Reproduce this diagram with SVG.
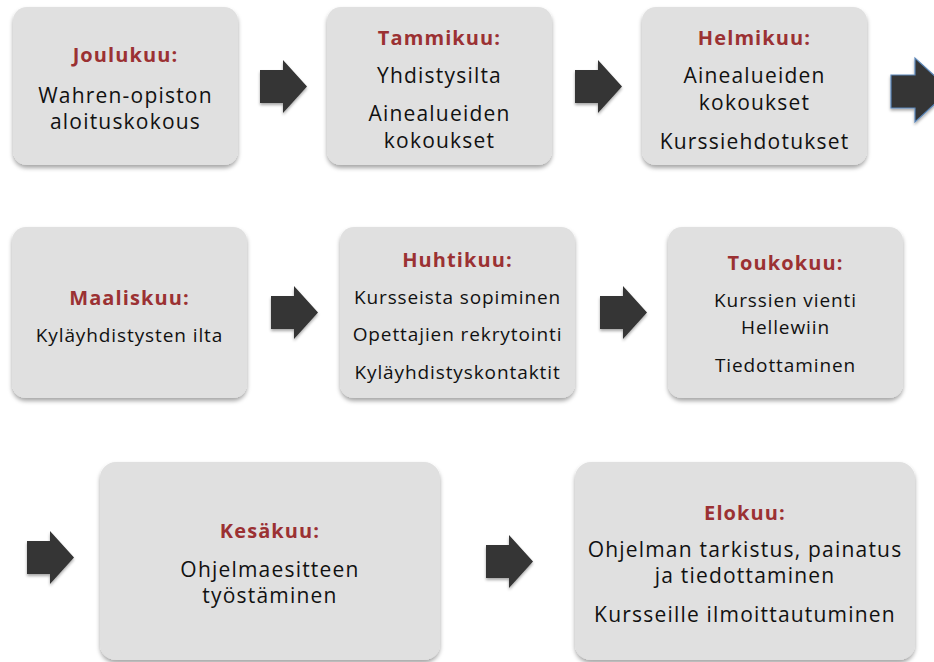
<svg xmlns="http://www.w3.org/2000/svg" width="934" height="662" viewBox="0 0 934 662">
<defs>
<filter id="sh" x="-10%" y="-10%" width="120%" height="125%">
<feDropShadow dx="0" dy="3" stdDeviation="2" flood-color="#000" flood-opacity="0.35"/>
</filter>
<filter id="ash" x="-20%" y="-20%" width="140%" height="150%">
<feDropShadow dx="0" dy="2" stdDeviation="1.5" flood-color="#000" flood-opacity="0.35"/>
</filter>
<path id="arr" d="M0,10 H23 V0 L47,26.5 L23,53 V43 H0 Z"/>
</defs>
<style>
.box{fill:#e0e0e0;filter:url(#sh);}
.t{font-family:"Open Sans","Noto Sans",sans-serif;font-weight:bold;fill:#9b3133;text-anchor:middle;font-size:20px;letter-spacing:1.1px;}
.b{font-family:"Open Sans","Noto Sans",sans-serif;fill:#111111;text-anchor:middle;font-size:21px;letter-spacing:1.2px;}
.b2{font-family:"Open Sans","Noto Sans",sans-serif;fill:#111111;text-anchor:middle;font-size:19px;letter-spacing:0.9px;}
.a{fill:#343434;filter:url(#ash);}
</style>
<rect width="934" height="662" fill="#ffffff"/>
<g id="connectors">
<use href="#arr" class="a" x="260" y="60"/>
<use href="#arr" class="a" x="575" y="60"/>
<path class="a" d="M891,75 H915 V58 L950,90 L915,122 V108 H891 Z" stroke="#5b86b8" stroke-width="1.2"/>
<use href="#arr" class="a" x="271" y="286"/>
<use href="#arr" class="a" x="600" y="286"/>
<use href="#arr" class="a" x="27" y="531"/>
<use href="#arr" class="a" x="486" y="535"/>
</g>
<g id="joulukuu">
<rect class="box" x="13" y="7" width="225" height="158" rx="14"/>
<text class="t" x="125.5" y="62">Joulukuu:</text>
<text class="b" x="125.5" y="103">Wahren-opiston</text>
<text class="b" x="125.5" y="129">aloituskokous</text>
</g>
<g id="tammikuu">
<rect class="box" x="327" y="7" width="225" height="158" rx="14"/>
<text class="t" x="439.5" y="45">Tammikuu:</text>
<text class="b" x="439.5" y="83">Yhdistysilta</text>
<text class="b" x="439.5" y="121">Ainealueiden</text>
<text class="b" x="439.5" y="148">kokoukset</text>
</g>
<g id="helmikuu">
<rect class="box" x="642" y="7" width="225" height="158" rx="14"/>
<text class="t" x="754.5" y="45">Helmikuu:</text>
<text class="b" x="754.5" y="83">Ainealueiden</text>
<text class="b" x="754.5" y="110">kokoukset</text>
<text class="b" x="754.5" y="149">Kurssiehdotukset</text>
</g>
<g id="maaliskuu">
<rect class="box" x="12" y="227" width="235" height="171" rx="14"/>
<text class="t" x="129.5" y="305">Maaliskuu:</text>
<text class="b2" x="129.5" y="342">Kyläyhdistysten ilta</text>
</g>
<g id="huhtikuu">
<rect class="box" x="340" y="227" width="235" height="171" rx="14"/>
<text class="t" x="457.5" y="267">Huhtikuu:</text>
<text class="b2" x="457.5" y="304">Kursseista sopiminen</text>
<text class="b2" x="457.5" y="341">Opettajien rekrytointi</text>
<text class="b2" x="457.5" y="379">Kyläyhdistyskontaktit</text>
</g>
<g id="toukokuu">
<rect class="box" x="668" y="227" width="235" height="171" rx="14"/>
<text class="t" x="785.5" y="270">Toukokuu:</text>
<text class="b2" x="785.5" y="307">Kurssien vienti</text>
<text class="b2" x="785.5" y="334">Hellewiin</text>
<text class="b2" x="785.5" y="372">Tiedottaminen</text>
</g>
<g id="kesakuu">
<rect class="box" x="100" y="462" width="340" height="198" rx="16"/>
<text class="t" x="270" y="538">Kesäkuu:</text>
<text class="b" x="270" y="577">Ohjelmaesitteen</text>
<text class="b" x="270" y="603">työstäminen</text>
</g>
<g id="elokuu">
<rect class="box" x="575" y="462" width="340" height="198" rx="16"/>
<text class="t" x="745" y="520">Elokuu:</text>
<text class="b" x="745" y="557">Ohjelman tarkistus, painatus</text>
<text class="b" x="745" y="583">ja tiedottaminen</text>
<text class="b" x="745" y="622">Kursseille ilmoittautuminen</text>
</g>
</svg>
